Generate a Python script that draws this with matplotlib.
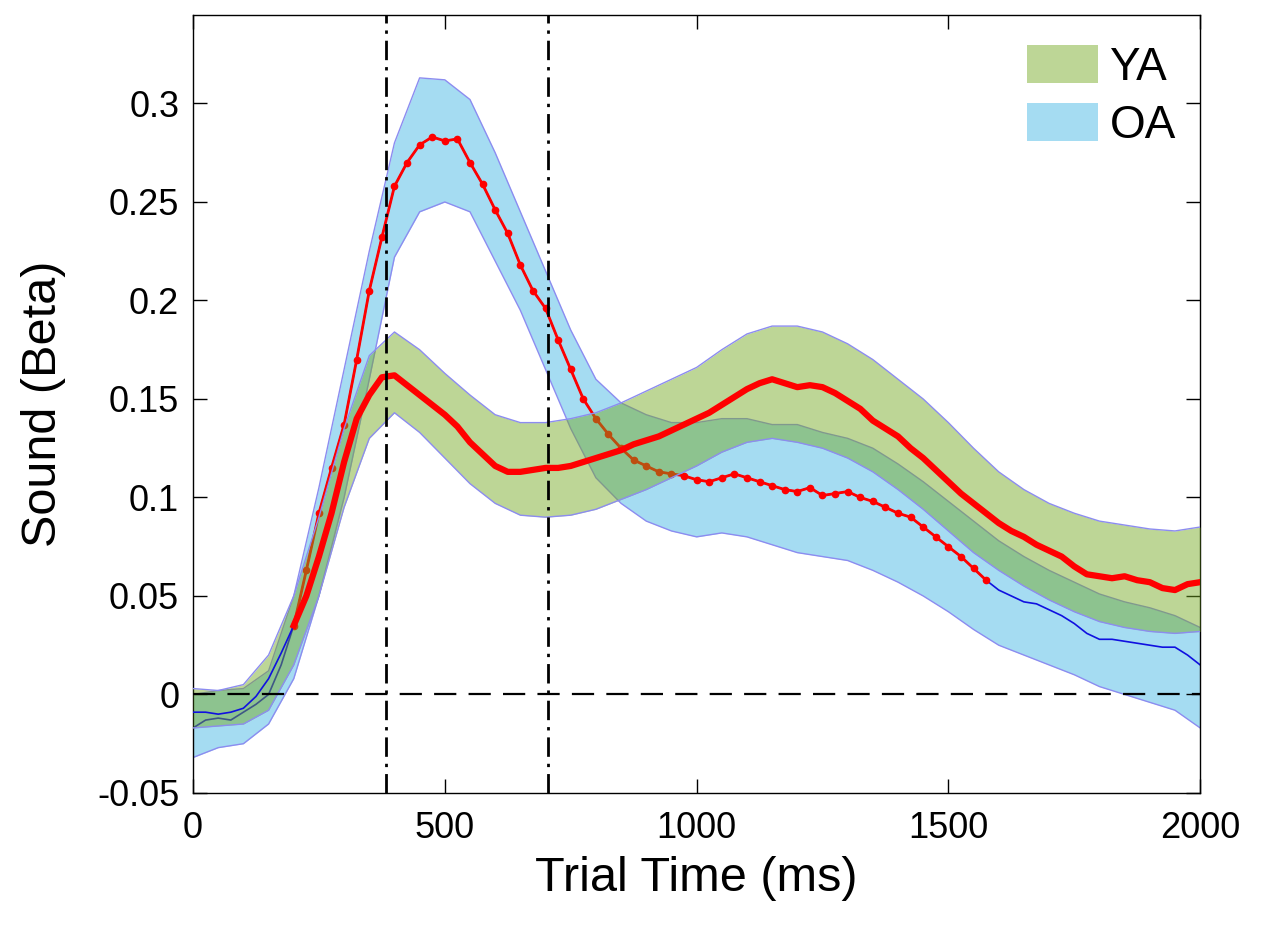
import numpy as np
import matplotlib
matplotlib.use("Agg")
import matplotlib.pyplot as plt
from matplotlib.patches import Patch

plt.rcParams['font.family'] = ['Liberation Sans', 'DejaVu Sans']

# time axis for the means (ms)
t_mean = np.arange(0, 2001, 25)

# YA mean
ya_mean = [
    -0.009, -0.009, -0.010, -0.009, -0.007, -0.001, 0.008, 0.021, 0.035, 0.050,
    0.070, 0.092, 0.118, 0.140, 0.152, 0.161, 0.162, 0.157, 0.152, 0.147,
    0.142, 0.136, 0.128, 0.122, 0.116, 0.113, 0.113, 0.114, 0.115, 0.115,
    0.116, 0.118, 0.120, 0.122, 0.124, 0.127, 0.129, 0.131, 0.134, 0.137,
    0.140, 0.143, 0.147, 0.151, 0.155, 0.158, 0.160, 0.158, 0.156, 0.157,
    0.156, 0.153, 0.149, 0.145, 0.139, 0.135, 0.131, 0.125, 0.120, 0.114,
    0.108, 0.102, 0.097, 0.092, 0.087, 0.083, 0.080, 0.076, 0.073, 0.070,
    0.065, 0.061, 0.060, 0.059, 0.060, 0.058, 0.057, 0.054, 0.053, 0.056,
    0.057,
]

# OA mean
oa_mean = [
    -0.017, -0.013, -0.012, -0.013, -0.009, -0.005, 0.000, 0.015, 0.035, 0.063,
    0.092, 0.115, 0.137, 0.170, 0.205, 0.232, 0.258, 0.270, 0.279, 0.283,
    0.281, 0.282, 0.270, 0.259, 0.246, 0.234, 0.218, 0.205, 0.196, 0.180,
    0.165, 0.150, 0.140, 0.132, 0.125, 0.119, 0.116, 0.113, 0.112, 0.111,
    0.109, 0.108, 0.110, 0.112, 0.110, 0.108, 0.106, 0.104, 0.103, 0.105,
    0.101, 0.102, 0.103, 0.100, 0.098, 0.095, 0.092, 0.090, 0.085, 0.080,
    0.075, 0.070, 0.064, 0.058, 0.053, 0.050, 0.047, 0.046, 0.043, 0.040,
    0.036, 0.031, 0.028, 0.028, 0.027, 0.026, 0.025, 0.024, 0.024, 0.020,
    0.015,
]

# significant windows (ms)
ya_sig = (200, 2000)
oa_sig = (200, 1575)

# time axis for the error bands (ms)
t_band = np.arange(0, 2001, 50)

ya_upper = [
    0.003, 0.002, 0.005, 0.020, 0.050, 0.090, 0.135, 0.172, 0.184, 0.175,
    0.163, 0.152, 0.142, 0.138, 0.138, 0.140, 0.143, 0.148, 0.154, 0.160,
    0.166, 0.175, 0.183, 0.187, 0.187, 0.184, 0.178, 0.170, 0.160, 0.150,
    0.138, 0.125, 0.113, 0.104, 0.097, 0.092, 0.088, 0.086, 0.084, 0.083,
    0.085,
]
ya_lower = [
    -0.017, -0.016, -0.015, -0.008, 0.015, 0.050, 0.095, 0.130, 0.143, 0.133,
    0.120, 0.107, 0.097, 0.091, 0.090, 0.091, 0.094, 0.099, 0.104, 0.110,
    0.116, 0.123, 0.128, 0.130, 0.128, 0.125, 0.120, 0.113, 0.104, 0.094,
    0.083, 0.072, 0.063, 0.055, 0.048, 0.042, 0.037, 0.034, 0.032, 0.031,
    0.032,
]
oa_upper = [
    0.000, 0.002, 0.003, 0.012, 0.050, 0.105, 0.165, 0.225, 0.280, 0.313,
    0.312, 0.302, 0.275, 0.245, 0.215, 0.185, 0.160, 0.148, 0.142, 0.138,
    0.138, 0.140, 0.140, 0.137, 0.137, 0.133, 0.130, 0.125, 0.117, 0.108,
    0.098, 0.088, 0.078, 0.070, 0.063, 0.057, 0.051, 0.047, 0.044, 0.040,
    0.034,
]
oa_lower = [
    -0.032, -0.027, -0.025, -0.015, 0.008, 0.050, 0.100, 0.160, 0.222, 0.245,
    0.250, 0.245, 0.220, 0.195, 0.165, 0.135, 0.110, 0.097, 0.088, 0.083,
    0.080, 0.082, 0.080, 0.076, 0.072, 0.070, 0.068, 0.063, 0.057, 0.050,
    0.042, 0.033, 0.025, 0.020, 0.015, 0.010, 0.004, 0.000, -0.004, -0.008,
    -0.017,
]

markers_ms = [383, 705]

fig = plt.figure(figsize=(12.7, 9.27), dpi=100)
ax = fig.add_axes([0.152, 0.1446, 0.793, 0.8394])

edge = '#8c8cf0'
ya_mean = np.array(ya_mean)
oa_mean = np.array(oa_mean)

# OA band + line (drawn first, under the YA band)
ax.fill_between(t_band, oa_lower, oa_upper, color='#a5dcf2', lw=0, zorder=1)
ax.plot(t_band, oa_upper, color=edge, lw=1, zorder=1.1)
ax.plot(t_band, oa_lower, color=edge, lw=1, zorder=1.1)
ax.plot(t_mean, oa_mean, color='#1010e0', lw=1.2, zorder=2)
s = (t_mean >= oa_sig[0]) & (t_mean <= oa_sig[1])
ax.plot(t_mean[s], oa_mean[s], color='red', lw=2, marker='o', ms=4.5,
        mec='red', mfc='red', zorder=2.1)

# YA band (semi transparent) + line
ax.fill_between(t_band, ya_lower, ya_upper, color='#73a820', alpha=0.47,
                lw=0, zorder=3)
ax.plot(t_band, ya_upper, color=edge, lw=1, zorder=3.1)
ax.plot(t_band, ya_lower, color=edge, lw=1, zorder=3.1)
ax.plot(t_mean, ya_mean, color='#1010e0', lw=1.2, zorder=4)
s = (t_mean >= ya_sig[0]) & (t_mean <= ya_sig[1])
ax.plot(t_mean[s], ya_mean[s], color='red', lw=4.5, zorder=4.1)

# reference lines
ax.axhline(0, color='black', lw=1.6, ls=(0, (10, 5.5)), zorder=5)
for m in markers_ms:
    ax.axvline(m, color='black', lw=2, ls=(0, (7, 2.5, 1.2, 2.5)), zorder=5)

ax.set_xlim(0, 2000)
ax.set_ylim(-0.05, 0.345)
ax.set_xticks([0, 500, 1000, 1500, 2000])
yt = [-0.05, 0, 0.05, 0.1, 0.15, 0.2, 0.25, 0.3]
ax.set_yticks(yt)
ax.set_yticklabels(['-0.05', '0', '0.05', '0.1', '0.15', '0.2', '0.25', '0.3'])
ax.tick_params(direction='in', length=10, width=1, top=True, right=True,
               labelsize=26)
ax.tick_params(axis='x', pad=13)
ax.tick_params(axis='y', pad=10)
for sp in ax.spines.values():
    sp.set_linewidth(1)
ax.set_xlabel('Trial Time (ms)', fontsize=35, labelpad=7)
ax.set_ylabel('Sound (Beta)', fontsize=35, labelpad=22)

handles = [Patch(facecolor='#bdd696', edgecolor='none', label='YA'),
           Patch(facecolor='#a5dcf2', edgecolor='none', label='OA')]
ax.legend(handles=handles, loc='upper right', bbox_to_anchor=(0.994, 0.985),
          frameon=False, fontsize=33, handlelength=1.55, handleheight=0.9,
          handletextpad=0.25, labelspacing=0.3, borderaxespad=0.0)

fig.savefig('out.png', dpi=100)
